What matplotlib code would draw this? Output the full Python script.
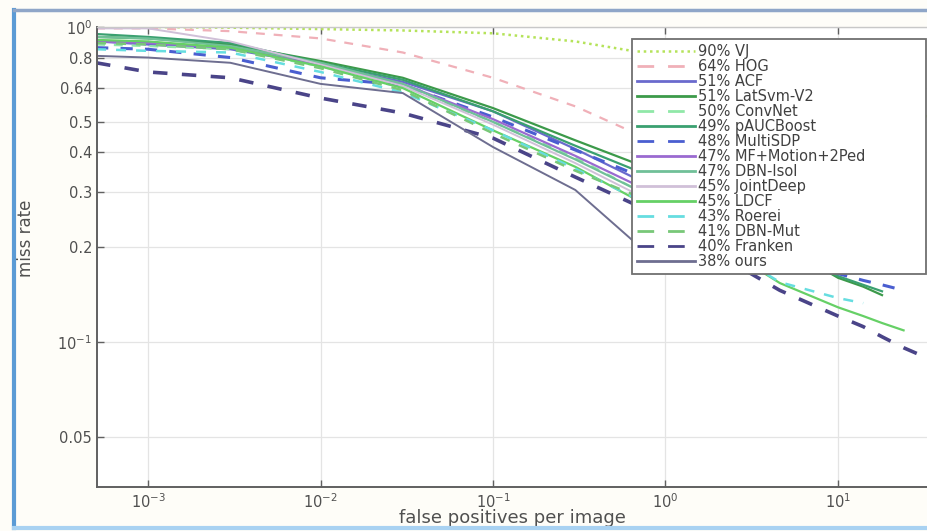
import numpy as np
import matplotlib
matplotlib.use("Agg")
import matplotlib.pyplot as plt
from matplotlib.lines import Line2D

# ---------------- data ----------------
fppi = [5e-4, 1e-3, 3e-3, 1e-2, 3e-2, 0.1, 0.3, 0.64, 1, 2, 4.6, 10, 14, 18, 24, 33]
nan = np.nan

methods = ["90% VJ", "64% HOG", "51% ACF", "51% LatSvm-V2", "50% ConvNet",
           "49% pAUCBoost", "48% MultiSDP", "47% MF+Motion+2Ped", "47% DBN-Isol",
           "45% JointDeep", "45% LDCF", "43% Roerei", "41% DBN-Mut", "40% Franken",
           "38% ours"]

mr_vj        = [1.0, 1.0, 0.995, 0.985, 0.975, 0.955, 0.90, 0.84, 0.80, 0.74, 0.68, 0.62, 0.59, 0.57, 0.55, 0.52]
mr_hog       = [0.99, 0.99, 0.97, 0.92, 0.83, 0.69, 0.56, 0.465, 0.42, 0.36, 0.30, 0.25, 0.23, 0.22, 0.21, 0.20]
mr_acf       = [0.90, 0.88, 0.85, 0.76, 0.67, 0.54, 0.41, 0.335, 0.30, 0.25, 0.21, 0.18, 0.17, nan, nan, nan]
mr_latsvm    = [0.93, 0.92, 0.88, 0.78, 0.69, 0.553, 0.437, 0.373, 0.33, 0.27, 0.205, 0.16, 0.15, 0.141, nan, nan]
mr_convnet   = [0.88, 0.87, 0.85, 0.75, 0.65, 0.50, 0.385, 0.31, 0.28, 0.23, 0.19, nan, nan, nan, nan, nan]
mr_pauc      = [0.95, 0.93, 0.89, 0.77, 0.68, 0.54, 0.42, 0.355, 0.32, 0.26, 0.20, 0.162, 0.152, 0.145, nan, nan]
mr_multisdp  = [0.86, 0.85, 0.80, 0.69, 0.655, 0.518, 0.407, 0.344, 0.31, 0.25, 0.195, 0.165, 0.157, 0.152, 0.146, nan]
mr_mf        = [0.90, 0.89, 0.86, 0.76, 0.66, 0.51, 0.39, 0.32, 0.29, 0.24, nan, nan, nan, nan, nan, nan]
mr_dbnisol   = [0.93, 0.92, 0.87, 0.77, 0.66, 0.50, 0.38, 0.31, 0.28, 0.23, 0.19, nan, nan, nan, nan, nan]
mr_jointdeep = [0.99, 0.99, 0.90, 0.76, 0.65, 0.49, 0.37, 0.30, 0.27, 0.22, nan, nan, nan, nan, nan, nan]
mr_ldcf      = [0.91, 0.90, 0.86, 0.75, 0.64, 0.47, 0.36, 0.288, 0.26, 0.205, 0.154, 0.129, 0.121, 0.115, 0.109, nan]
mr_roerei    = [0.85, 0.84, 0.83, 0.72, 0.62, 0.47, 0.355, 0.29, 0.26, 0.205, 0.155, 0.138, 0.133, nan, nan, nan]
mr_dbnmut    = [0.89, 0.88, 0.85, 0.74, 0.63, 0.46, 0.35, 0.295, 0.265, 0.21, nan, nan, nan, nan, nan, nan]
mr_franken   = [0.77, 0.72, 0.69, 0.595, 0.533, 0.444, 0.334, 0.276, 0.245, 0.19, 0.146, 0.121, 0.112, 0.104, 0.096, 0.089]
mr_ours      = [0.81, 0.80, 0.77, 0.66, 0.617, 0.416, 0.304, 0.211, 0.19, 0.175, nan, nan, nan, nan, nan, nan]

series = [mr_vj, mr_hog, mr_acf, mr_latsvm, mr_convnet, mr_pauc, mr_multisdp, mr_mf,
          mr_dbnisol, mr_jointdeep, mr_ldcf, mr_roerei, mr_dbnmut, mr_franken, mr_ours]

ytick_vals = [1.0, 0.8, 0.64, 0.5, 0.4, 0.3, 0.2, 0.1, 0.05]
ytick_labels = [r"$10^{0}$", "0.8", "0.64", "0.5", "0.4", "0.3", "0.2", r"$10^{-1}$", "0.05"]
xtick_vals = [1e-3, 1e-2, 1e-1, 1e0, 1e1]
xtick_labels = [r"$10^{-3}$", r"$10^{-2}$", r"$10^{-1}$", r"$10^{0}$", r"$10^{1}$"]

# ---------------- styles ----------------
colors = ["#b5e35a", "#f0b0b8", "#6a6acd", "#3c9a4a", "#90e8a8", "#3aa070", "#4a5ed0",
          "#9a6ad0", "#70c098", "#d0c0d8", "#66d066", "#66dde0", "#78c878", "#4a4488",
          "#6e6e90"]
styles = [":", "--", "-", "-", "--", "-", "--", "-", "-", "-", "-", "--", "--", "--", "-"]
widths = [1.8, 1.6, 1.6, 1.6, 1.6, 1.6, 2.2, 1.6, 1.6, 1.4, 1.6, 1.8, 1.8, 2.6, 1.4]

plt.rcParams['font.family'] = ['DejaVu Sans']
fig = plt.figure(figsize=(9.27, 5.31), dpi=100, facecolor="#fefdf8")
ax = fig.add_axes([97/927, (531-487)/531, (927-97)/927, (487-27)/531])
ax.set_facecolor("white")

for mr, c, ls, lw in zip(series, colors, styles, widths):
    if ls == "--":
        ax.plot(fppi, mr, color=c, lw=lw, linestyle=(0, (4, 4)))
    elif ls == ":":
        ax.plot(fppi, mr, color=c, lw=lw, linestyle=(0, (1, 1.5)))
    else:
        ax.plot(fppi, mr, color=c, lw=lw, linestyle="-")

ax.set_xscale("log")
ax.set_yscale("log")
ax.set_xlim(10**-3.2957, 10**1.516)
ax.set_ylim(0.0347, 1.0)

ax.set_yticks(ytick_vals)
ax.set_yticklabels(ytick_labels)
ax.set_xticks(xtick_vals)
ax.set_xticklabels(xtick_labels)
ax.yaxis.set_minor_locator(matplotlib.ticker.NullLocator())
ax.xaxis.set_minor_locator(matplotlib.ticker.NullLocator())
ax.tick_params(direction="in", length=5, width=1, colors="#606060",
               labelcolor="#505050", labelsize=10.5, top=True, right=False)
ax.grid(True, color="#e4e4e4", lw=0.9)
ax.set_axisbelow(True)

for s in ["left", "bottom"]:
    ax.spines[s].set_color("#606060")
    ax.spines[s].set_linewidth(1.4)
ax.spines["top"].set_color("#c8c8c8")
ax.spines["top"].set_linewidth(1.0)
ax.spines["right"].set_visible(False)

ax.set_ylabel("miss rate", fontsize=12, color="#505050")
ax.yaxis.set_label_coords(-0.075, 0.54)
ax.set_xlabel("false positives per image", fontsize=13, color="#505050")
ax.xaxis.set_label_coords(0.5, -0.048)

# legend with proxy handles
handles = []
for c, ls, lw in zip(colors, styles, widths):
    if ls == "--":
        h = Line2D([], [], color=c, lw=2.0, linestyle=(0, (6, 5)))
    elif ls == ":":
        h = Line2D([], [], color=c, lw=1.8, linestyle=(0, (1, 1.5)))
    else:
        h = Line2D([], [], color=c, lw=2.0, linestyle="-")
    handles.append(h)

x0 = (632-97)/830
x1 = (926-97)/830
ytop = (487-39)/460
ybot = (487-278)/460
leg = ax.legend(handles, methods, loc="upper left",
                bbox_to_anchor=(x0, ybot, x1-x0, ytop-ybot), mode="expand",
                fontsize=10.5, labelspacing=0.0, handlelength=4.0, handletextpad=0.2,
                borderpad=0.35, fancybox=False, framealpha=1.0, edgecolor="#707070",
                borderaxespad=0)
leg.get_frame().set_linewidth(1.3)
for t in leg.get_texts():
    t.set_color("#404040")

# outer screenshot frame
fig.add_artist(Line2D([14/927, 14/927], [3/531, 521/531], transform=fig.transFigure,
                      color="#5b9bd5", lw=3))
fig.add_artist(Line2D([14/927, 1.0], [521/531, 521/531], transform=fig.transFigure,
                      color="#8fa6c8", lw=2.5))
fig.add_artist(Line2D([14/927, 1.0], [3/531, 3/531], transform=fig.transFigure,
                      color="#a9d2f2", lw=3))

fig.savefig("out.png", dpi=100, facecolor=fig.get_facecolor())
